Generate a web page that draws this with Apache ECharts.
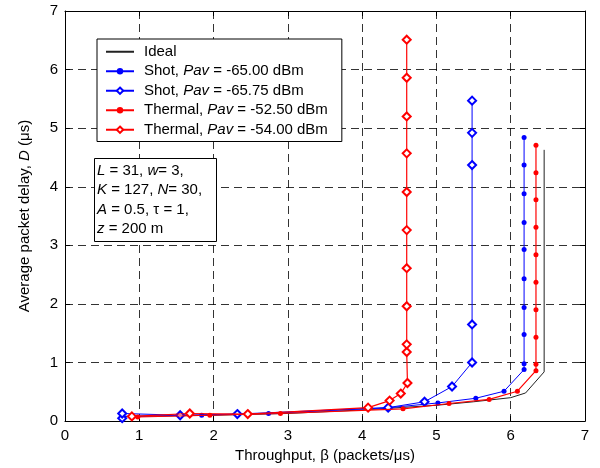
<!DOCTYPE html>
<html>
<head>
<meta charset="utf-8">
<script src="https://cdn.jsdelivr.net/npm/echarts@6/dist/echarts.min.js"></script>
<style>
  html, body { margin: 0; padding: 0; background: #fff; }
  #chart { width: 600px; height: 468px; }
</style>
</head>
<body>
<div id="chart"></div>
<script>
// Throughput (x) / average packet delay (y) pairs for each curve
const idealX = [0.8, 2.0, 3.0, 4.0, 5.0, 5.5, 6.0, 6.2, 6.45, 6.45];
const idealY = [0.08, 0.10, 0.13, 0.19, 0.27, 0.33, 0.40, 0.48, 0.84, 4.63];

const shot65X = [0.77, 1.84, 2.32, 2.74, 4.37, 5.02, 5.53, 5.91, 6.18, 6.18, 6.18, 6.18, 6.18, 6.18, 6.18, 6.18, 6.18, 6.18];
const shot65Y = [0.08, 0.10, 0.12, 0.13, 0.23, 0.31, 0.39, 0.51, 0.88, 0.98, 1.48, 1.94, 2.43, 2.93, 3.39, 3.88, 4.37, 4.84];

const shot6575X = [0.77, 0.77, 1.55, 2.32, 4.35, 4.84, 5.21, 5.48, 5.48, 5.48, 5.48, 5.48];
const shot6575Y = [0.05, 0.13, 0.10, 0.12, 0.23, 0.33, 0.59, 1.00, 1.65, 4.37, 4.92, 5.47];

const therm525X = [0.90, 0.98, 1.95, 2.90, 4.55, 5.17, 5.71, 6.09, 6.34, 6.34, 6.34, 6.34, 6.34, 6.34, 6.34, 6.34, 6.34, 6.34];
const therm525Y = [0.06, 0.07, 0.10, 0.13, 0.21, 0.30, 0.37, 0.51, 0.86, 0.97, 1.43, 1.90, 2.37, 2.84, 3.31, 3.78, 4.24, 4.71];

const therm54X = [0.90, 1.68, 2.46, 4.08, 4.37, 4.52, 4.61, 4.60, 4.60, 4.60, 4.60, 4.60, 4.60, 4.60, 4.60, 4.60, 4.60];
const therm54Y = [0.08, 0.13, 0.12, 0.23, 0.35, 0.47, 0.65, 1.18, 1.31, 1.96, 2.61, 3.26, 3.91, 4.57, 5.20, 5.86, 6.51];

const seriesNames = [
  'Ideal',
  'Shot, Pav = -65.00 dBm',
  'Shot, Pav = -65.75 dBm',
  'Thermal, Pav = -52.50 dBm',
  'Thermal, Pav = -54.00 dBm'
];

const axisTicks = [0, 1, 2, 3, 4, 5, 6, 7];

const paramLines = [
  '{i|L}{n| = 31, }{i|w}{n|= 3,}',
  '{i|K}{n| = 127, }{i|N}{n|= 30,}',
  '{i|A}{n| = 0.5, τ = 1,}',
  '{i|z}{n| = 200 m}'
];

const zip = (xs, ys) => xs.map((x, i) => [x, ys[i]]);

const FONT = 'Liberation Sans, Arial, sans-serif';
const FS = 15;
const richText = {
  n: { fontFamily: FONT, fontSize: FS, color: '#000' },
  i: { fontFamily: FONT, fontSize: FS, color: '#000', fontStyle: 'italic' }
};

function legendLabel(name) {
  const m = name.match(/^(.*?)Pav(.*)$/);
  if (!m) return '{n|' + name + '}';
  return '{n|' + m[1] + '}{i|Pav}{n|' + m[2] + '}';
}

const gridLine = { show: true, lineStyle: { color: '#000', type: [8, 5], width: 1, opacity: 0.8 } };

const chart = echarts.init(document.getElementById('chart'), null, { renderer: 'canvas' });

const baseAxis = {
  min: 0, max: 7, interval: 1,
  axisLine: { show: true, onZero: false, lineStyle: { color: '#000', width: 1 } },
  axisTick: { show: true, inside: true, length: 5, lineStyle: { color: '#000' } }
};

chart.setOption({
  animation: false,
  backgroundColor: '#fff',
  grid: { left: 65, right: 15, top: 11, bottom: 45, containLabel: false },
  xAxis: [
    Object.assign({}, baseAxis, {
      type: 'value', position: 'bottom',
      axisLabel: { color: '#000', fontFamily: FONT, fontSize: FS, margin: 7,
        formatter: v => axisTicks.includes(v) ? String(v) : '' },
      splitLine: gridLine,
      name: 'Throughput, β (packets/μs)', nameLocation: 'middle', nameGap: 26,
      nameTextStyle: { color: '#000', fontFamily: FONT, fontSize: FS }
    }),
    Object.assign({}, baseAxis, {
      type: 'value', position: 'top', axisLabel: { show: false }, splitLine: { show: false }
    })
  ],
  yAxis: [
    Object.assign({}, baseAxis, {
      type: 'value', position: 'left',
      axisLabel: { color: '#000', fontFamily: FONT, fontSize: FS, margin: 7,
        formatter: v => axisTicks.includes(v) ? String(v) : '' },
      splitLine: gridLine,
      name: '{n|Average packet delay, }{i|D}{n| (μs)}', nameLocation: 'middle', nameGap: 33, nameRotate: 90,
      nameTextStyle: { rich: richText }
    }),
    Object.assign({}, baseAxis, {
      type: 'value', position: 'right', axisLabel: { show: false }, splitLine: { show: false }
    })
  ],
  legend: {
    orient: 'vertical',
    left: 97, top: 39,
    padding: [4, 14, 3, 8],
    itemGap: 2,
    itemWidth: 28,
    itemHeight: 8,
    backgroundColor: '#fff',
    borderColor: '#000',
    borderWidth: 1,
    borderRadius: 0,
    data: [
      { name: seriesNames[0], itemStyle: { opacity: 0 } },
      seriesNames[1], seriesNames[2], seriesNames[3], seriesNames[4]
    ],
    formatter: legendLabel,
    textStyle: { rich: richText, padding: [0, 0, 0, 5], lineHeight: 17.5 }
  },
  graphic: [
    {
      type: 'rect', left: 94, top: 158, z: 100,
      shape: { width: 122, height: 83 },
      style: { fill: '#fff', stroke: '#000', lineWidth: 1 }
    },
    {
      type: 'text', left: 97, top: 161, z: 101,
      style: { text: paramLines.join('\n'), rich: richText, lineHeight: 19.5, fontSize: FS, fontFamily: FONT }
    }
  ],
  series: [
    {
      name: seriesNames[0], type: 'line', data: zip(idealX, idealY),
      symbol: 'none', lineStyle: { color: '#222', width: 1 }, itemStyle: { color: '#222' }, z: 3
    },
    {
      name: seriesNames[1], type: 'line', data: zip(shot65X, shot65Y),
      symbol: 'circle', symbolSize: 5, lineStyle: { color: '#0000ff', width: 1 },
      itemStyle: { color: '#0000ff' }, z: 4
    },
    {
      name: seriesNames[2], type: 'line', data: zip(shot6575X, shot6575Y),
      symbol: 'emptyDiamond', symbolSize: 8, lineStyle: { color: '#0000ff', width: 1 },
      itemStyle: { color: '#0000ff', borderWidth: 1 }, z: 4
    },
    {
      name: seriesNames[3], type: 'line', data: zip(therm525X, therm525Y),
      symbol: 'circle', symbolSize: 5, lineStyle: { color: '#ff0000', width: 1.2 },
      itemStyle: { color: '#ff0000' }, z: 5
    },
    {
      name: seriesNames[4], type: 'line', data: zip(therm54X, therm54Y),
      symbol: 'emptyDiamond', symbolSize: 8, lineStyle: { color: '#ff0000', width: 1.2 },
      itemStyle: { color: '#ff0000', borderWidth: 1 }, z: 5
    }
  ]
});
</script>
</body>
</html>
